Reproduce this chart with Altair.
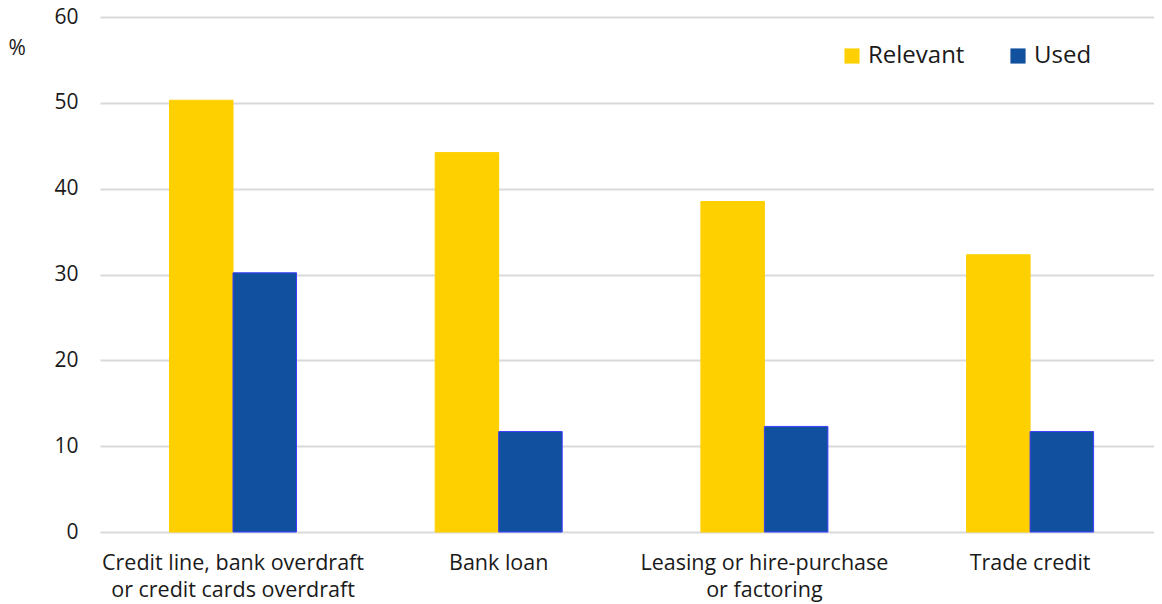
import altair as alt
import pandas as pd

categories = ["Credit line, bank overdraft|or credit cards overdraft", "Bank loan",
              "Leasing or hire-purchase|or factoring", "Trade credit"]
series = ["Relevant", "Used"]
relevant = [50.3, 44.2, 38.5, 32.3]
used = [30.2, 11.7, 12.3, 11.7]

rows = []
for c, r, u in zip(categories, relevant, used):
    rows.append({"cat": c, "series": "Relevant", "value": r})
    rows.append({"cat": c, "series": "Used", "value": u})
df = pd.DataFrame(rows)

FONT = "Open Sans"
TXT = "#1a1a1a"

chart = alt.Chart(df).mark_bar(strokeWidth=1).encode(
    x=alt.X("cat:N", sort=categories, title=None,
            scale=alt.Scale(paddingInner=0.522, paddingOuter=0.2445, align=0.535),
            axis=alt.Axis(labelExpr="split(datum.label, '|')", labelAngle=0,
                          labelFontSize=21.5, labelColor=TXT, labelFont=FONT,
                          labelPadding=20, labelLineHeight=27, labelLimit=0, ticks=False,
                          domain=False, grid=False)),
    xOffset=alt.XOffset("series:N", sort=series),
    y=alt.Y("value:Q", title="%",
            scale=alt.Scale(domain=[0, 60]),
            axis=alt.Axis(values=[0, 10, 20, 30, 40, 50, 60], ticks=False, domain=False,
                          labelFontSize=21, labelColor=TXT, labelFont=FONT, labelPadding=22,
                          gridColor="#d9d9d9", gridWidth=2,
                          titleAngle=0, titleX=-92, titleY=31, titleAlign="left",
                          titleBaseline="middle", titleFontSize=21, titleFontWeight="normal",
                          titleColor=TXT, titleFont=FONT)),
    color=alt.Color("series:N", sort=series, title=None,
                    scale=alt.Scale(domain=series, range=["#FFD000", "#11509F"]),
                    legend=alt.Legend(orient="none", legendX=740, legendY=27,
                                      direction="horizontal", symbolType="square",
                                      symbolSize=230, labelFontSize=24, labelFont=FONT,
                                      labelColor=TXT, columnPadding=41, labelOffset=4,
                                      symbolStrokeWidth=0)),
    stroke=alt.Stroke("series:N", sort=series, legend=None,
                      scale=alt.Scale(domain=series, range=["#FFD000", "#3C3CFF"])),
).properties(
    width=1054, height=515,
    autosize=alt.AutoSizeParams(type="none"),
    padding={"left": 92, "top": 9, "right": 0, "bottom": 74},
).configure_view(stroke=None)

chart.save("out.html", embed_options={"renderer": "svg", "actions": False})
